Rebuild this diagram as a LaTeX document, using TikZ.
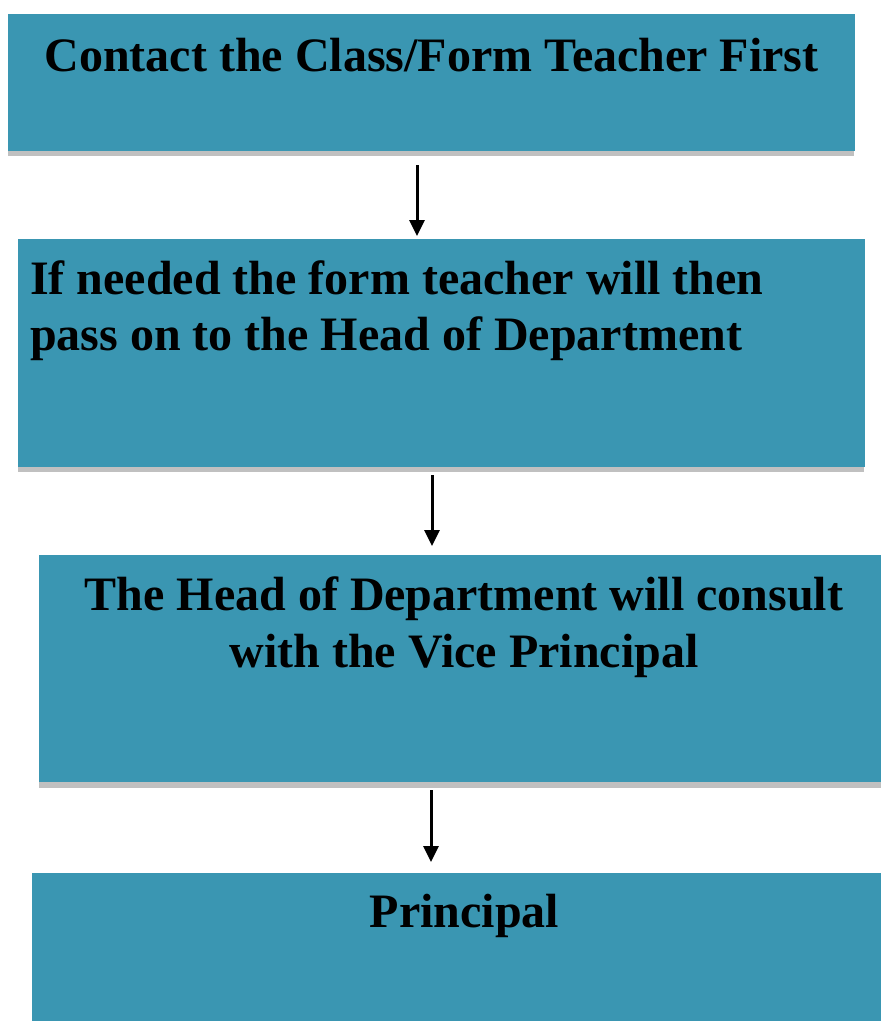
\documentclass[tikz,border=0pt]{standalone}
\usepackage{fontspec}
\setmainfont{Liberation Serif}
\usetikzlibrary{arrows.meta}
\definecolor{boxteal}{RGB}{58,150,178}
\definecolor{shadowgray}{RGB}{192,192,192}
\begin{document}
\begin{tikzpicture}[x=1pt,y=-1pt,
  stepbox/.style={draw=none, fill=boxteal, rectangle, inner sep=0pt, outer sep=0pt, anchor=north west},
  lbl/.style={inner sep=0pt, font=\fontsize{48}{57}\selectfont\bfseries, text=black},
  arr/.style={-{Triangle[width=15pt,length=16pt]}, line width=3pt, black}]
\useasboundingbox (0,0) rectangle (881,1021);
% boxes
\node[stepbox, minimum width=847pt, minimum height=137pt] (b1) at (8,14) {};
\node[stepbox, minimum width=847pt, minimum height=228pt] (b2) at (18,239) {};
\node[stepbox, minimum width=842pt, minimum height=227pt] (b3) at (39,555) {};
\node[stepbox, minimum width=849pt, minimum height=148pt] (b4) at (32,873) {};
% shadows
\fill[shadowgray] (b1.south west) rectangle ([xshift=-1pt,yshift=-5pt]b1.south east);
\fill[shadowgray] (b2.south west) rectangle ([xshift=-1pt,yshift=-5pt]b2.south east);
\fill[shadowgray] (b3.south west) rectangle ([yshift=-6pt]b3.south east);
% texts
\node[lbl, anchor=base] (t1) at (431.5,71) {Contact the Class/Form Teacher First};
\node[lbl, anchor=base west] (t2a) at (30,294) {If needed the form teacher will then};
\node[lbl, anchor=base west] (t2b) at (30,350) {pass on to the Head of Department};
\node[lbl, anchor=base] (t3a) at (464,610) {The Head of Department will consult};
\node[lbl, anchor=base] (t3b) at (464,667) {with the Vice Principal};
\node[lbl, anchor=base] (t4) at (464.5,927) {Principal};
% arrows
\coordinate (a1) at (417,0);
\coordinate (a2) at (432,0);
\coordinate (a3) at (431,0);
\draw[arr] ([yshift=-14pt]b1.south -| a1) -- ([yshift=3pt]b2.north -| a1);
\draw[arr] ([yshift=-8pt]b2.south -| a2) -- ([yshift=9pt]b3.north -| a2);
\draw[arr] ([yshift=-8pt]b3.south -| a3) -- ([yshift=11pt]b4.north -| a3);
\end{tikzpicture}
\end{document}
